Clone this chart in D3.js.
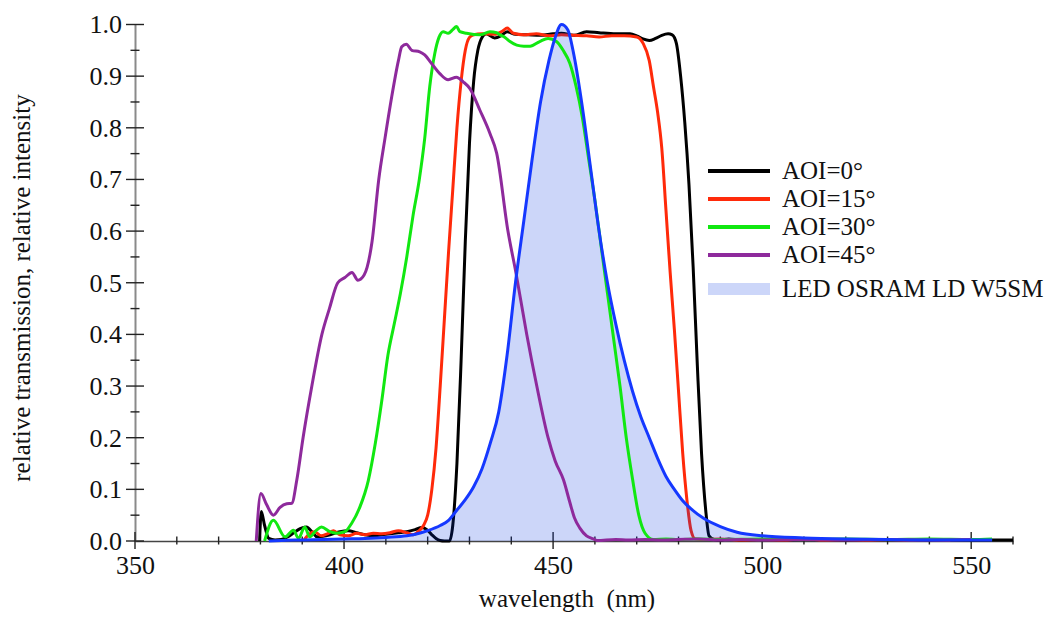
<!DOCTYPE html>
<html>
<head>
<meta charset="utf-8">
<script src="https://cdn.jsdelivr.net/npm/d3@7"></script>
<style>
  body { margin: 0; background: #fff; }
  text { font-family: "Liberation Serif", "Times New Roman", serif; fill: #111; }
</style>
</head>
<body>
<div id="chart"></div>
<script>
// AOI = 0 deg
const aoi0Wl = [379.8, 380.2, 381, 382, 383.5, 385, 386.5, 388, 389.5, 391, 392.5, 393.5, 395, 397, 399, 401, 403, 405, 407, 409, 411, 413, 415, 417, 418.6, 419.8, 421, 422, 423, 424, 425.2, 426, 427, 428, 429, 430, 431, 432, 433, 434, 436, 437.5, 439, 441, 444, 447, 450, 452, 455, 458, 461, 465, 468.4, 470, 471.5, 473, 474.5, 476, 477.5, 478.5, 479.5, 480.5, 481.5, 482.5, 483.5, 484.5, 485.5, 486.5, 487.3, 488.5, 490, 492, 495, 500, 505, 510, 520, 530, 540, 550, 560];
const aoi0Val = [0, 0.057, 0.03, 0.005, 0.002, 0.003, 0.008, 0.016, 0.024, 0.027, 0.016, 0.008, 0.009, 0.013, 0.018, 0.02, 0.016, 0.012, 0.01, 0.012, 0.014, 0.016, 0.018, 0.022, 0.026, 0.022, 0.012, 0.005, 0.001, 0, 0, 0.03, 0.15, 0.35, 0.58, 0.77, 0.89, 0.95, 0.975, 0.982, 0.974, 0.978, 0.986, 0.981, 0.98, 0.979, 0.982, 0.983, 0.979, 0.986, 0.984, 0.982, 0.982, 0.978, 0.972, 0.969, 0.973, 0.979, 0.982, 0.98, 0.963, 0.9, 0.81, 0.69, 0.53, 0.34, 0.17, 0.06, 0.01, 0.003, 0.002, 0.004, 0.002, 0.003, 0.002, 0.003, 0.002, 0.003, 0.002, 0.002, 0.002];

// AOI = 15 deg
const aoi15Wl = [390.5, 391.5, 393, 394.5, 396, 397.5, 399, 401, 403, 405, 407, 409, 411, 413, 415, 416.5, 418, 419, 420, 421, 422, 423, 424, 425, 426, 427, 428, 429, 430, 431, 433, 436, 438, 439, 440.5, 443, 446, 449, 452, 455, 458, 461, 464, 467, 470, 471.5, 473, 474, 475, 476, 477, 478, 479, 480, 481, 482, 483, 484, 486, 490, 495, 500, 505, 510, 515, 520, 525, 530, 535, 540, 545];
const aoi15Val = [0.003, 0.012, 0.018, 0.01, 0.014, 0.02, 0.012, 0.01, 0.015, 0.012, 0.015, 0.014, 0.016, 0.02, 0.016, 0.012, 0.02, 0.03, 0.05, 0.1, 0.18, 0.3, 0.43, 0.56, 0.68, 0.8, 0.89, 0.95, 0.975, 0.98, 0.982, 0.981, 0.988, 0.993, 0.983, 0.98, 0.982, 0.978, 0.98, 0.979, 0.978, 0.976, 0.978, 0.978, 0.976, 0.964, 0.93, 0.88, 0.83, 0.76, 0.64, 0.52, 0.41, 0.29, 0.17, 0.08, 0.02, 0.004, 0.003, 0.004, 0.002, 0.003, 0.002, 0.004, 0.002, 0.003, 0.002, 0.003, 0.002, 0.003, 0.002];

// AOI = 30 deg
const aoi30Wl = [381, 383.1, 385.9, 387.9, 389.1, 390.6, 391.8, 393.4, 394.6, 396.6, 398.2, 400.2, 401.8, 403.8, 405.8, 407.5, 409, 410.5, 412, 413.5, 415, 416.5, 418, 419.3, 420.5, 421.7, 422.7, 423.7, 424.9, 426, 426.9, 427.7, 429.3, 432.5, 434.9, 436.5, 437.3, 438.5, 439.7, 441.3, 443, 444.5, 446.8, 448.8, 450.8, 452.4, 454, 455.5, 457, 458.5, 460, 461.5, 463, 464.5, 466, 467.5, 469, 470.5, 472, 474, 477, 480, 485, 490, 500, 510, 520, 530, 540, 550, 555];
const aoi30Val = [0, 0.04, 0.008, 0.021, 0.005, 0.027, 0.008, 0.021, 0.027, 0.018, 0.015, 0.018, 0.034, 0.066, 0.117, 0.19, 0.27, 0.36, 0.42, 0.48, 0.55, 0.63, 0.7, 0.78, 0.88, 0.944, 0.975, 0.986, 0.983, 0.99, 0.996, 0.986, 0.983, 0.98, 0.986, 0.984, 0.98, 0.975, 0.967, 0.96, 0.958, 0.958, 0.967, 0.973, 0.967, 0.95, 0.925, 0.88, 0.82, 0.74, 0.66, 0.57, 0.48, 0.39, 0.3, 0.2, 0.12, 0.05, 0.015, 0.003, 0.004, 0.003, 0.004, 0.003, 0.004, 0.003, 0.004, 0.003, 0.004, 0.003, 0.004];

// AOI = 45 deg
const aoi45Wl = [379, 380.1, 381.5, 383.1, 384.7, 386.3, 387.5, 388.7, 390.2, 392.3, 394.7, 396.5, 398.5, 400.2, 401.9, 403.3, 404.8, 406.7, 408.3, 409.8, 411.4, 413, 413.8, 414.9, 416.2, 418.1, 419.3, 420.9, 422.9, 424.9, 426.9, 428.5, 430.1, 432.5, 434.9, 436.5, 439.2, 441.1, 443.7, 446.1, 448.8, 450.5, 452.5, 454, 455.1, 456.4, 458, 459.6, 460.5, 465, 468, 472, 476, 480, 485, 490, 495, 500, 510, 520, 530, 540, 550];
const aoi45Val = [0, 0.092, 0.07, 0.05, 0.065, 0.072, 0.073, 0.118, 0.2, 0.3, 0.4, 0.45, 0.5, 0.51, 0.52, 0.505, 0.515, 0.58, 0.7, 0.78, 0.86, 0.93, 0.957, 0.962, 0.95, 0.947, 0.941, 0.925, 0.905, 0.893, 0.898, 0.889, 0.876, 0.834, 0.789, 0.751, 0.6, 0.52, 0.4, 0.3, 0.2, 0.155, 0.118, 0.075, 0.045, 0.025, 0.01, 0.004, 0.001, 0.003, 0.002, 0.003, 0.002, 0.003, 0.004, 0.002, 0.003, 0.002, 0.003, 0.002, 0.003, 0.002, 0.003];

// LED OSRAM LD W5SM spectrum
const ledWl = [382, 385, 390, 395, 400, 405, 410, 415, 418, 420, 423, 425, 427, 429, 431, 433, 435, 437, 439, 441, 443, 445, 447, 449, 450.5, 452, 453.5, 455, 457, 459, 461, 463, 465, 467, 469, 471, 473, 475, 477, 479, 481, 483, 486, 490, 494, 500, 510, 520, 530, 540, 555];
const ledVal = [0, 0.001, 0.002, 0.003, 0.004, 0.005, 0.007, 0.01, 0.015, 0.02, 0.03, 0.04, 0.06, 0.08, 0.105, 0.14, 0.19, 0.25, 0.36, 0.5, 0.62, 0.74, 0.85, 0.93, 0.975, 1.0, 0.99, 0.94, 0.84, 0.72, 0.6, 0.5, 0.42, 0.35, 0.29, 0.24, 0.2, 0.16, 0.125, 0.1, 0.078, 0.062, 0.044, 0.028, 0.017, 0.01, 0.006, 0.004, 0.003, 0.002, 0.002];

const legendNames = ["AOI=0°", "AOI=15°", "AOI=30°", "AOI=45°", "LED OSRAM LD W5SM"];
const xMajorTicks = [350, 400, 450, 500, 550];
const yMajorTicks = [0, 0.1, 0.2, 0.3, 0.4, 0.5, 0.6, 0.7, 0.8, 0.9, 1.0];

const width = 1051, height = 617;
const colors = ["#000000", "#ff2a0a", "#11e811", "#8e2a9c"];
const blueLine = "#1538ff";
const ledFill = "rgba(0, 50, 225, 0.2)";

let svg = d3.select("#chart").append("svg")
  .attr("width", width)
  .attr("height", height);

let xScale = d3.scaleLinear().domain([350, 560]).range([135, 1013]);
let yScale = d3.scaleLinear().domain([0, 1]).range([541, 24.5]);

function toPoints(wl, val) {
  return wl.map((w, i) => ({ x: w, y: val[i] }));
}

let line = d3.line()
  .x(d => xScale(d.x))
  .y(d => yScale(d.y))
  .curve(d3.curveMonotoneX);

let area = d3.area()
  .x(d => xScale(d.x))
  .y0(yScale(0))
  .y1(d => yScale(d.y))
  .curve(d3.curveMonotoneX);

let series = [
  toPoints(aoi0Wl, aoi0Val),
  toPoints(aoi15Wl, aoi15Val),
  toPoints(aoi30Wl, aoi30Val),
  toPoints(aoi45Wl, aoi45Val)
];
let led = toPoints(ledWl, ledVal);

// axes first (curves sit over them)
let xAxis = d3.axisBottom(xScale).tickValues(xMajorTicks).tickFormat(d3.format("d")).tickSize(0).tickPadding(15);
let yAxis = d3.axisLeft(yScale).tickValues(yMajorTicks).tickFormat(d3.format(".1f")).tickSize(0).tickPadding(13);

let gx = svg.append("g").attr("transform", "translate(0," + yScale(0) + ")").call(xAxis);
gx.select(".domain").attr("stroke", "#444").attr("stroke-width", 1.5);
gx.selectAll("text").style("font-size", "26px").attr("fill", "#111").style("font-family", "Liberation Serif");

let gy = svg.append("g").attr("transform", "translate(" + xScale(350) + ",0)").call(yAxis);
gy.select(".domain").attr("stroke", "#8a8a8a").attr("stroke-width", 2);
gy.selectAll("text").style("font-size", "26px").attr("fill", "#111").style("font-family", "Liberation Serif");

// crossing ticks
let xTicks = d3.range(350, 561, 10);
svg.append("g").selectAll("line").data(xTicks).enter().append("line")
  .attr("x1", d => xScale(d)).attr("x2", d => xScale(d))
  .attr("y1", d => yScale(0) - (d % 50 == 0 ? 9 : 4.5))
  .attr("y2", d => yScale(0) + (d % 50 == 0 ? 8 : 3.5))
  .attr("stroke", "#222").attr("stroke-width", 1.4);

let yTicks = d3.range(0, 21).map(i => i * 0.05);
svg.append("g").selectAll("line").data(yTicks).enter().append("line")
  .attr("y1", d => yScale(d)).attr("y2", d => yScale(d))
  .attr("x1", (d, i) => xScale(350) - (i % 2 == 0 ? 9 : 4.5))
  .attr("x2", (d, i) => xScale(350) + (i % 2 == 0 ? 9 : 4.5))
  .attr("stroke", "#222").attr("stroke-width", 1.4);

svg.append("text")
  .attr("x", 567).attr("y", 607)
  .style("text-anchor", "middle")
  .style("font-size", "25px")
  .style("white-space", "pre")
  .text("wavelength\u00a0\u00a0(nm)");

svg.append("text")
  .attr("transform", "rotate(-90)")
  .attr("x", -288).attr("y", 30)
  .style("text-anchor", "middle")
  .style("font-size", "25px")
  .text("relative transmission, relative intensity");

// curves: black and red under the LED fill, the rest above
let plot = svg.append("g");
[0, 1].forEach(i => {
  plot.append("path").attr("d", line(series[i]))
    .attr("fill", "none").attr("stroke", colors[i]).attr("stroke-width", 3)
    .attr("stroke-linejoin", "round");
});

plot.append("path").attr("d", area(led)).attr("fill", ledFill);

[2, 3].forEach(i => {
  plot.append("path").attr("d", line(series[i]))
    .attr("fill", "none").attr("stroke", colors[i]).attr("stroke-width", 3)
    .attr("stroke-linejoin", "round");
});

plot.append("path").attr("d", line(led))
  .attr("fill", "none").attr("stroke", blueLine).attr("stroke-width", 3);

// legend
let legend = svg.append("g");
let rowY = [171, 199, 227, 255, 289];
legendNames.forEach((name, i) => {
  if (i < 4) {
    legend.append("line")
      .attr("x1", 708).attr("x2", 770)
      .attr("y1", rowY[i]).attr("y2", rowY[i])
      .attr("stroke", colors[i]).attr("stroke-width", 4);
  } else {
    legend.append("rect")
      .attr("x", 708).attr("y", rowY[i] - 6)
      .attr("width", 62).attr("height", 12)
      .attr("fill", ledFill);
  }
  legend.append("text")
    .attr("x", 782).attr("y", rowY[i] + 8)
    .style("font-size", "25px")
    .text(name);
});
</script>
</body>
</html>
